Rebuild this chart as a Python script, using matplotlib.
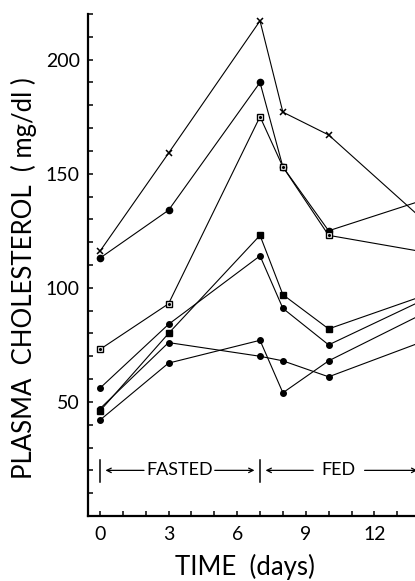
import matplotlib
matplotlib.use("Agg")
import matplotlib.pyplot as plt
from matplotlib.ticker import FixedLocator, MultipleLocator

plt.rcParams['font.family'] = ['Lato', 'DejaVu Sans']
plt.rcParams['font.weight'] = 'normal'

days = [0, 3, 7, 8, 10, 14]
s_cross = [116, 159, 217, 177, 167, 131]
s_circ_top = [113, 134, 190, 153, 125, 138]
s_open_sq = [73, 93, 175, 153, 123, 116]
s_fill_sq = [46, 80, 123, 97, 82, 96]
s_circ_mid = [56, 84, 114, 91, 75, 94]
s_circ_low = [47, 76, 70, 68, 61, 76]
s_circ_b = [42, 67, 77, 54, 68, 88]

x_major = [0, 3, 6, 9, 12]
x_labels = ['0', '3', '6', '9', '12']
y_major = [50, 100, 150, 200]
y_labels = ['50', '100', '150', '200']

W, H = 415, 581
fig = plt.figure(figsize=(W / 100, H / 100), dpi=100)
ax = fig.add_axes([88 / W, 65 / H, 355 / W, 502 / H])
ax.set_xlim(-0.52, 15)
ax.set_ylim(0, 220)

lw = 0.8
kw = dict(color='black', lw=lw, clip_on=False)
ax.plot(days, s_cross, marker='x', ms=4.5, mew=1.1, **kw)
ax.plot(days, s_circ_top, marker='o', ms=4.5, **kw)
ax.plot(days, s_open_sq, marker='s', ms=5, mfc='white', mec='black', mew=1, **kw)
ax.plot(days, s_open_sq, marker='.', ms=2.5, ls='none', color='black', clip_on=False)
ax.plot(days, s_fill_sq, marker='s', ms=5, **kw)
ax.plot(days, s_circ_mid, marker='o', ms=4, **kw)
ax.plot(days, s_circ_low, marker='o', ms=4, **kw)
ax.plot(days, s_circ_b, marker='o', ms=4, **kw)

for s in ['top', 'right']:
    ax.spines[s].set_visible(False)
for s in ['left', 'bottom']:
    ax.spines[s].set_linewidth(1.6)

ax.xaxis.set_major_locator(FixedLocator(x_major))
ax.set_xticklabels(x_labels)
ax.xaxis.set_minor_locator(MultipleLocator(1))
ax.yaxis.set_major_locator(FixedLocator(y_major))
ax.set_yticklabels(y_labels)
ax.yaxis.set_minor_locator(MultipleLocator(10))
ax.tick_params(which='both', direction='in', length=3.5, width=1.1, labelsize=14)
ax.tick_params(axis='y', pad=6)
ax.tick_params(axis='x', pad=7)

# FASTED / FED annotation
yb = 20
ax.plot([0, 0], [15, 24.5], color='black', lw=1.1)
ax.plot([7, 7], [15, 24.5], color='black', lw=1.1)
ap = dict(arrowstyle='->', lw=0.9, color='black', mutation_scale=8)
ax.annotate('', xy=(0.12, yb), xytext=(2.05, yb), arrowprops=ap)
ax.annotate('', xy=(6.88, yb), xytext=(4.9, yb), arrowprops=ap)
ax.text(3.48, yb, 'FASTED', ha='center', va='center', fontsize=13)
ax.annotate('', xy=(7.12, yb), xytext=(9.45, yb), arrowprops=ap)
ax.annotate('', xy=(14, yb), xytext=(11.45, yb), arrowprops=ap, annotation_clip=False)
ax.text(10.45, yb, 'FED', ha='center', va='center', fontsize=13)

fig.text(24 / W, 1 - 278 / H, 'PLASMA  CHOLESTEROL  ( mg/dl )', rotation=90,
         ha='center', va='center', fontsize=18.5)
fig.text(245 / W, 1 - 567 / H, 'TIME  (days)', ha='center', va='center', fontsize=18.5)

fig.savefig('out.png', dpi=100)
